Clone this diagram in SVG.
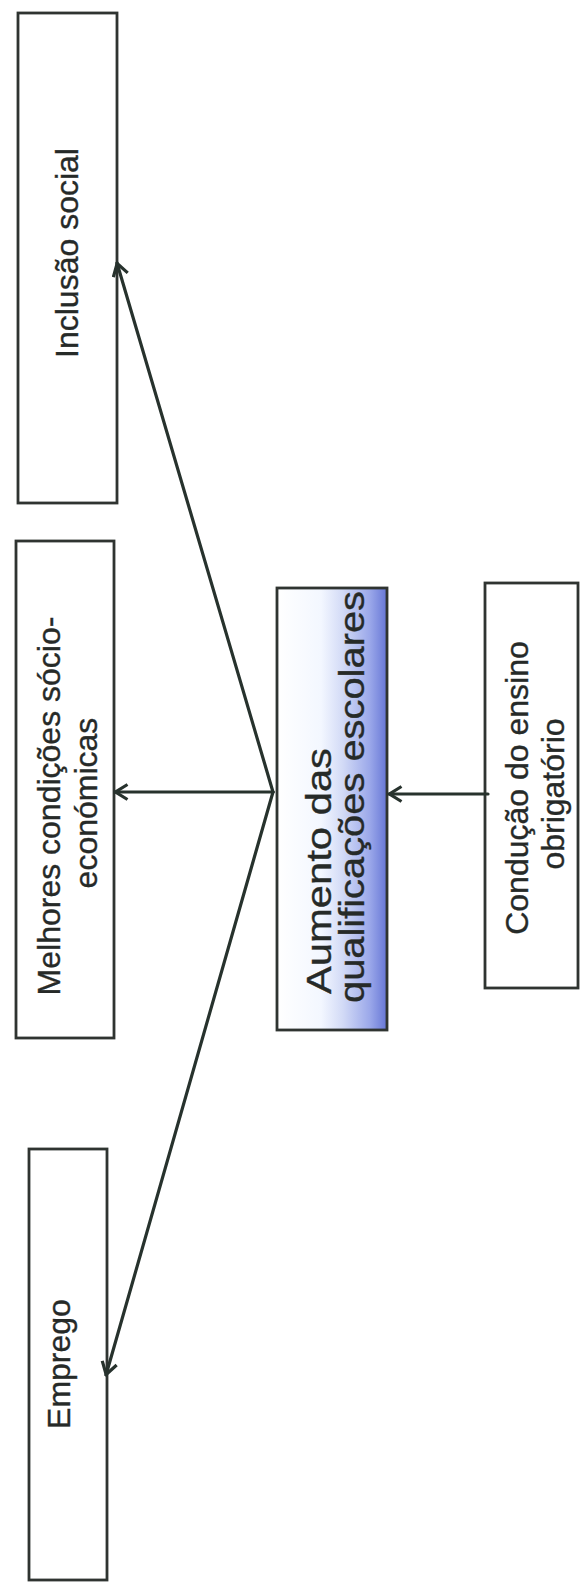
<svg xmlns="http://www.w3.org/2000/svg" width="585" height="1592" viewBox="0 0 585 1592">
  <defs>
    <style>
      .box { fill: #ffffff; stroke: #2f3431; stroke-width: 2.8; }
      .lbl { font-family: "Liberation Sans", Arial, sans-serif; font-size: 32px; fill: #262a28; stroke: #262a28; stroke-width: 0.35; }
      .conn { fill: none; stroke: #27322d; stroke-width: 3.2; stroke-linecap: round; }
    </style>
    <linearGradient id="blueFade" x1="0" y1="0" x2="1" y2="0">
      <stop offset="0" stop-color="#ffffff"/>
      <stop offset="0.4" stop-color="#f3f7ff"/>
      <stop offset="0.6" stop-color="#d2daf6"/>
      <stop offset="0.84" stop-color="#9ca9ea"/>
      <stop offset="1" stop-color="#6676d6"/>
    </linearGradient>
    <marker id="openArrow" viewBox="0 0 15 18" refX="14" refY="9" markerWidth="15" markerHeight="18" markerUnits="userSpaceOnUse" orient="auto">
      <path d="M1.5,1.5 L13.5,9 L1.5,16.5" fill="none" stroke="#27322d" stroke-width="3.2" stroke-linejoin="miter"/>
    </marker>
  </defs>

  <rect x="0" y="0" width="585" height="1592" fill="#ffffff"/>

  <g id="node-inclusao">
    <rect class="box" x="18" y="13" width="99" height="490"/>
    <text class="lbl" transform="translate(78 253) rotate(-90)" text-anchor="middle">Inclusão social</text>
  </g>

  <g id="node-melhores">
    <rect class="box" x="16" y="541" width="98" height="497"/>
    <text class="lbl" transform="translate(60 806) rotate(-90)" text-anchor="middle">Melhores condições sócio-</text>
    <text class="lbl" transform="translate(97 803) rotate(-90)" text-anchor="middle">económicas</text>
  </g>

  <g id="node-emprego">
    <rect class="box" x="29" y="1149" width="78" height="431"/>
    <text class="lbl" transform="translate(70 1364) rotate(-90)" text-anchor="middle">Emprego</text>
  </g>

  <g id="node-aumento">
    <rect x="277" y="588" width="110" height="442" fill="url(#blueFade)" stroke="#2f3431" stroke-width="2.8"/>
    <text class="lbl" style="font-size:35px" transform="translate(331 994) rotate(-90)" textLength="246" lengthAdjust="spacingAndGlyphs">Aumento das</text>
    <text class="lbl" style="font-size:35px" transform="translate(364 1003) rotate(-90)" textLength="412" lengthAdjust="spacingAndGlyphs">qualificações escolares</text>
  </g>

  <g id="node-conclusao">
    <rect class="box" x="485" y="583" width="93" height="405"/>
    <text class="lbl" transform="translate(528 788) rotate(-90)" text-anchor="middle">Condução do ensino</text>
    <text class="lbl" transform="translate(564 794) rotate(-90)" text-anchor="middle">obrigatório</text>
  </g>

  <g id="connectors">
    <line class="conn" x1="273" y1="792" x2="117" y2="263" marker-end="url(#openArrow)"/>
    <line class="conn" x1="273" y1="792" x2="115" y2="792" marker-end="url(#openArrow)"/>
    <line class="conn" x1="273" y1="792" x2="106" y2="1375" marker-end="url(#openArrow)"/>
    <line class="conn" x1="488" y1="794" x2="389" y2="794" marker-end="url(#openArrow)"/>
  </g>
</svg>
